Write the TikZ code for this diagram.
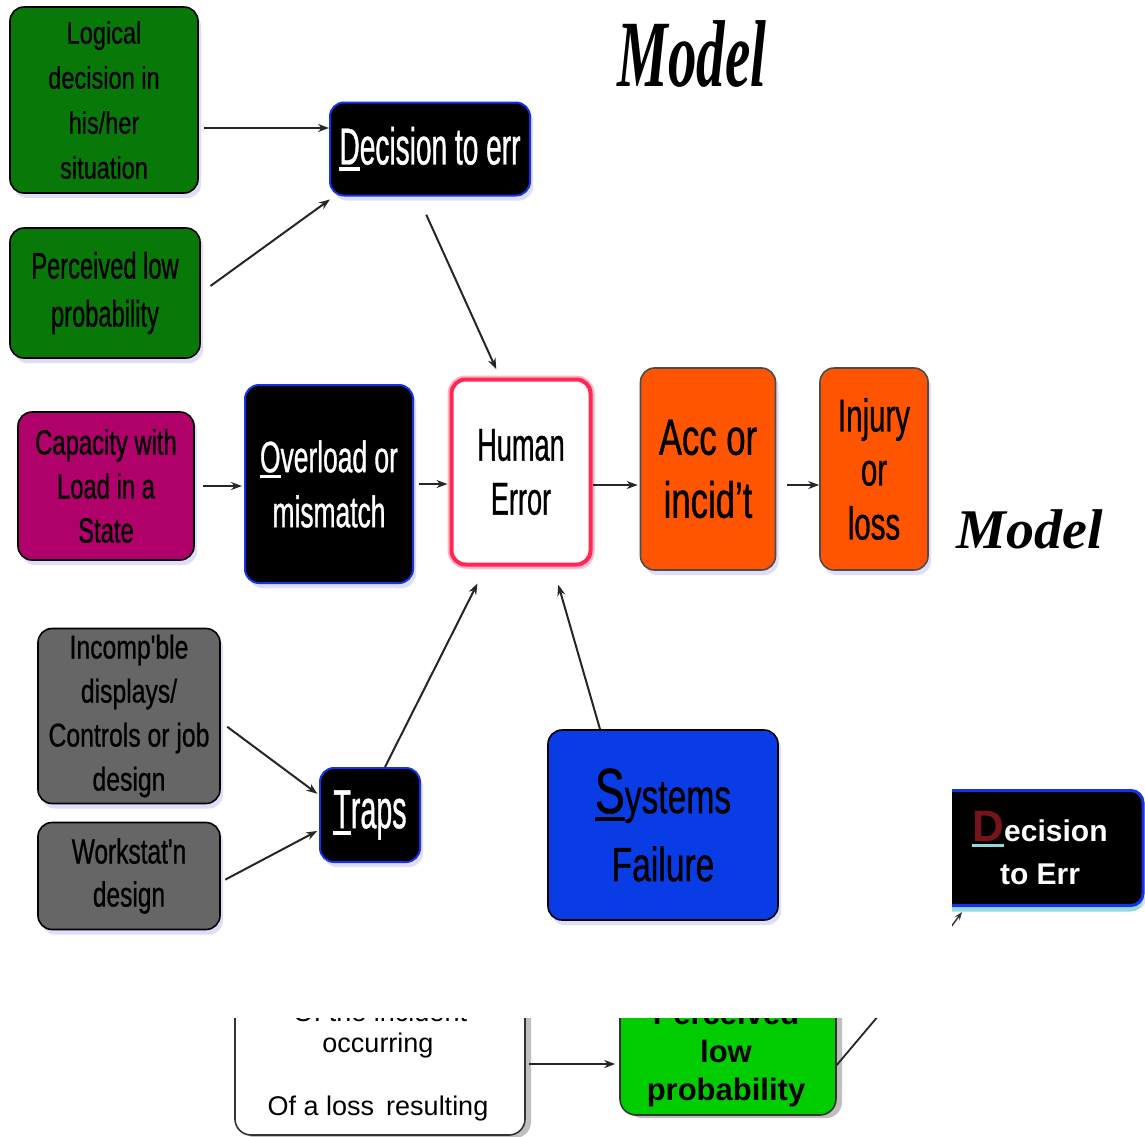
\documentclass[tikz,border=0pt]{standalone}
\usepackage{fontspec}
\setmainfont{Liberation Sans}
\newfontfamily\serifmodel{Liberation Serif}
\newfontfamily\serifmodelnarrow{Liberation Serif}[FakeStretch=0.6]
\usetikzlibrary{shadows,arrows.meta,calc}

% condensed sans: stretch, size, baselineskip
\newcommand\nar[3]{\fontspec{Liberation Sans}[FakeStretch=#1,FakeBold=0.7]\fontsize{#2}{#3}\selectfont}
% thick underline in a given colour
\newcommand\ulc[2]{{\setbox0\hbox{#2}\rlap{\color{#1}\rule[-0.13em]{\wd0}{0.075em}}\box0}}

\definecolor{dkgreen}{RGB}{8,120,8}
\definecolor{magen}{RGB}{176,0,106}
\definecolor{orng}{RGB}{255,85,0}
\definecolor{gry}{RGB}{102,102,102}
\definecolor{sysblue}{RGB}{10,60,230}
\definecolor{brgreen}{RGB}{0,204,0}
\definecolor{herr}{RGB}{255,40,85}
\definecolor{edgeblue}{RGB}{20,50,230}
\definecolor{lav}{RGB}{222,222,250}
\definecolor{cyanglow}{RGB}{150,215,220}
\definecolor{dkred}{RGB}{120,20,25}

\tikzset{
  box/.style={rounded corners=14pt, draw=black, line width=1.6pt, inner sep=0pt,
    align=center, drop shadow={shadow xshift=3pt, shadow yshift=-5pt, fill=lav, opacity=1}},
  greenbox/.style={box, fill=dkgreen},
  magbox/.style={box, fill=magen},
  graybox/.style={box, fill=gry},
  orangebox/.style={box, fill=orng, draw=black!70},
  blackbox/.style={box, fill=black, draw=edgeblue, line width=2pt, text=white},
  bluebox/.style={box, fill=sysblue},
  errbox/.style={box, fill=white, draw=herr, line width=4pt,
    preaction={draw=herr!35, line width=8pt}},
  plainbox/.style={rounded corners=16pt, draw=black!80, line width=1.6pt, fill=white,
    inner sep=0pt, drop shadow={shadow xshift=6pt, shadow yshift=-3pt, fill=black!25, opacity=1}},
  limebox/.style={plainbox, fill=brgreen},
  arr/.style={-{Stealth[length=11pt,width=8pt]}, line width=2pt, black!85},
  thin/.style={line width=1.8pt, black!85},
}

\begin{document}
\begin{tikzpicture}[x=1pt, y=-1pt]
\useasboundingbox (0,0) rectangle (1145,1136);
\fill[white] (0,0) rectangle (1145,1136);

% titles
\node[font={\serifmodelnarrow\bfseries\itshape\fontsize{95}{95}\selectfont}] (title) at (692,54) {Model};
\node[font={\serifmodel\bfseries\itshape\fontsize{56}{56}\selectfont}] (title2) at (1030,529) {Model};

% causes of a decision to err
\node[greenbox, minimum width=188pt, minimum height=186pt, font=\nar{0.76}{31}{45}] (logi) at (104,100)
  {Logical\\decision in\\his/her\\situation};
\node[greenbox, minimum width=190pt, minimum height=130pt, font=\nar{0.64}{37}{48}] (perc) at (105,293)
  {Perceived low\\probability};
\node[blackbox, minimum width=200pt, minimum height=93pt, font=\nar{0.54}{52}{52}] (dec) at (430,149)
  {\ulc{white}{D}ecision to err};

% main chain
\node[magbox, minimum width=176pt, minimum height=148pt, font=\nar{0.68}{35}{44}] (cap) at (106,486)
  {Capacity with\\Load in a\\State};
\node[blackbox, minimum width=168pt, minimum height=198pt, font=\nar{0.6}{44}{55}] (ovl) at (329,484)
  {\ulc{white}{O}verload or\\mismatch};
\node[errbox, minimum width=139pt, minimum height=185pt, font=\nar{0.59}{46}{54}] (hum) at (521,472)
  {Human\\Error};
\node[orangebox, minimum width=135pt, minimum height=202pt, font=\nar{0.68}{51}{63}] (acc) at (708,469)
  {Acc or\\incid’t};
\node[orangebox, minimum width=108pt, minimum height=202pt, font=\nar{0.64}{46}{54}] (inj) at (874,469)
  {Injury\\or\\loss};

% traps and systems failure
\node[graybox, minimum width=182pt, minimum height=175pt, font=\nar{0.75}{33}{44}] (inc) at (129,716)
  {Incomp'ble\\displays/\\Controls or job\\design};
\node[graybox, minimum width=182pt, minimum height=107pt, font=\nar{0.7}{35}{43}] (wks) at (129,876)
  {Workstat'n\\design};
\node[blackbox, minimum width=100pt, minimum height=94pt, font=\nar{0.52}{55}{55}] (trp) at (370,815)
  {\ulc{white}{T}raps};
\node[bluebox, minimum width=230pt, minimum height=190pt, font=\nar{0.7}{48}{68}] (sys) at (663,825)
  {{\fontsize{64}{68}\selectfont\ulc{black}{S}}ystems\\Failure};

% connectors
\draw[arr, shorten <=5pt] ([yshift=-28pt]logi.east) coordinate (a1) -- (a1 -| dec.west);
\draw[arr, shorten <=12pt, shorten >=5pt] (perc.east) -- ([xshift=5pt]dec.south west);
\draw[arr, shorten <=20pt, shorten >=9pt] ([xshift=-12pt]dec.south) -- ([xshift=-21pt]hum.north);
\draw[arr, shorten <=8pt, shorten >=2pt] (cap.east) -- (cap.east -| ovl.west);
\draw[arr, shorten <=5pt, shorten >=2pt] (ovl.east) -- (ovl.east -| hum.west);
\draw[arr, shorten >=2pt] ([yshift=-13pt]hum.east) coordinate (h1) -- (h1 -| acc.west);
\draw[arr, shorten <=11pt] ([yshift=-16pt]acc.east) coordinate (a2) -- (a2 -| inj.west);
\draw[arr, shorten <=8pt, shorten >=2pt] ([yshift=-6pt]inc.east) -- ([yshift=20pt]trp.west);
\draw[arr, shorten <=5pt, shorten >=2pt] ([yshift=-6pt]wks.east) -- ([yshift=-15pt]trp.west);
\draw[arr, shorten >=19pt] ([xshift=15pt]trp.north) -- ([xshift=-35pt]hum.south);
\draw[arr, shorten >=19pt] ([xshift=-63pt]sys.north) -- ([xshift=32pt]hum.south);

% decision to err, right-hand panel
\begin{scope}
  \clip (952,775) rectangle (1145,945);
  \node[box, rounded corners=12pt, fill=black, draw=edgeblue, line width=3pt, text=white,
    minimum width=206pt, minimum height=115pt,
    drop shadow={shadow xshift=0pt, shadow yshift=-6pt, fill=cyanglow, opacity=1},
    font={\bfseries\fontsize{30}{43}\selectfont}] (derr) at (1040,848)
    {{\fontsize{44}{43}\selectfont\ulc{cyanglow}{\textcolor{dkred}{D}}}ecision\\to Err};
  \coordinate (st1) at (948,931);
  \coordinate (st2) at (962,912);
  \draw[-{Stealth[length=8pt,width=6pt]}, line width=1.4pt, black!80] (st1) -- (st2);
\end{scope}

% probability panel, bottom
\begin{scope}
  \clip (200,1018) rectangle (1145,1136);
  \node[plainbox, minimum width=290pt, minimum height=142pt] (loss) at (380,1064) {};
  \node[anchor=base, font=\fontsize{27}{31}\selectfont] (l1) at (380,1021) {Of the incident};
  \node[anchor=base, font=\fontsize{27}{31}\selectfont] (l2) at (378,1052) {occurring};
  \node[anchor=base, font=\fontsize{27}{31}\selectfont] (l3) at (378,1115) {Of a loss\, resulting};
  \node[limebox, minimum width=216pt, minimum height=130pt] (pb) at (728,1050) {};
  \node[anchor=base, font=\bfseries\fontsize{31}{38}\selectfont] (p1) at (726,1024) {Perceived};
  \node[anchor=base, font=\bfseries\fontsize{31}{38}\selectfont] (p2) at (726,1062) {low};
  \node[anchor=base, font=\bfseries\fontsize{31}{38}\selectfont] (p3) at (726,1100) {probability};
  \draw[arr, shorten <=3pt, shorten >=4pt] (loss.east) -- (loss.east -| pb.west);
  \coordinate (pt) at (906,983);
  \draw[thin] ([yshift=-15pt]pb.east) -- (pt);
\end{scope}
\end{tikzpicture}
\end{document}
